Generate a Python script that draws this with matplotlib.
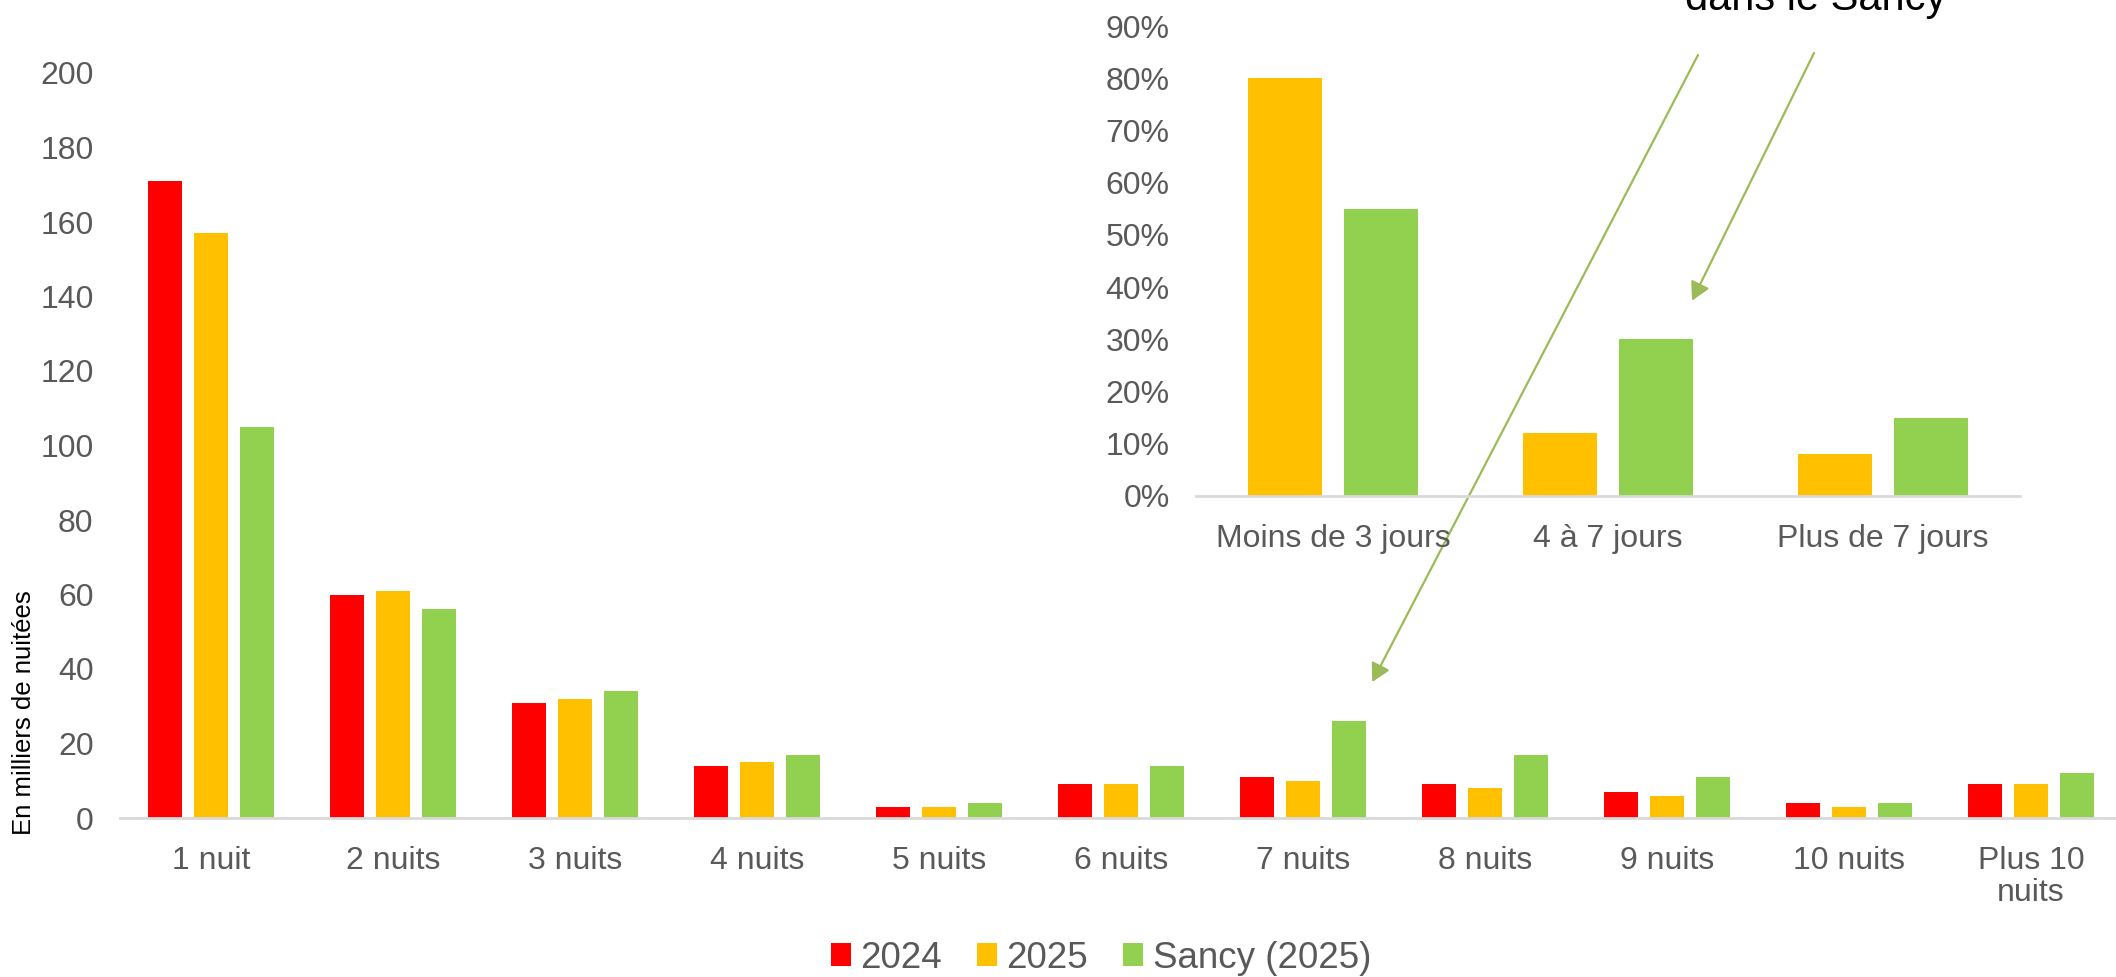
import matplotlib
matplotlib.use("Agg")
import matplotlib.pyplot as plt
import numpy as np

plt.rcParams['font.family'] = ['Liberation Sans', 'DejaVu Sans']

# Données principales (en milliers de nuitées)
categories = ["1 nuit", "2 nuits", "3 nuits", "4 nuits", "5 nuits", "6 nuits",
              "7 nuits", "8 nuits", "9 nuits", "10 nuits", "Plus 10\nnuits"]
val_2024 = [171, 60, 31, 14, 3, 9, 11, 9, 7, 4, 9]
val_2025 = [157, 61, 32, 15, 3, 9, 10, 8, 6, 3, 9]
val_sancy = [105, 56, 34, 17, 4, 14, 26, 17, 11, 4, 12]

# Données de l'encart (part des séjours)
duree = ["Moins de 3 jours", "4 à 7 jours", "Plus de 7 jours"]
part_2025 = [0.80, 0.12, 0.08]
part_sancy = [0.55, 0.30, 0.15]

rouge = '#FF0000'
jaune = '#FFC000'
vert = '#92D050'
gris = '#595959'
fleche = '#9BBB59'

W, H = 2116, 977
fig = plt.figure(figsize=(W / 100, H / 100), dpi=100)

# Graphique principal
ax = fig.add_axes([120 / W, 1 - 818 / H, (W - 120) / W, 745 / H])
x = np.arange(len(categories))
larg = 0.19
pas = 0.253
ax.bar(x - pas, val_2024, larg, color=rouge, label="2024")
ax.bar(x, val_2025, larg, color=jaune, label="2025")
ax.bar(x + pas, val_sancy, larg, color=vert, label="Sancy (2025)")
ax.set_xlim(-0.5, -0.5 + (W - 120) / 182)
ax.set_ylim(0, 200)
ax.set_yticks(np.arange(0, 201, 20))
ax.set_xticks(x)
ax.set_xticklabels(categories, linespacing=1.1)
ax.tick_params(axis='both', length=0, labelsize=23, labelcolor=gris)
ax.tick_params(axis='y', pad=19)
ax.tick_params(axis='x', pad=20)
for s in ['top', 'right', 'left']:
    ax.spines[s].set_visible(False)
ax.spines['bottom'].set_color('#D9D9D9')
ax.spines['bottom'].set_linewidth(2)
ax.set_facecolor('none')

fig.text(24 / W, 1 - 713 / H, "En milliers de nuitées", rotation=90,
         ha='center', va='center', fontsize=18.5, color='black')

# Encart
axi = fig.add_axes([1196 / W, 1 - 496 / H, 824 / W, 470 / H])
xi = np.arange(len(duree))
axi.bar(xi - 0.175, part_2025, 0.27, color=jaune)
axi.bar(xi + 0.175, part_sancy, 0.27, color=vert)
axi.set_xlim(-0.5, 2.5)
axi.set_ylim(0, 0.9)
axi.set_yticks(np.arange(0, 0.91, 0.1))
axi.set_yticklabels([f"{int(round(v * 100))}%" for v in np.arange(0, 0.91, 0.1)])
axi.set_xticks(xi)
axi.set_xticklabels(duree)
axi.tick_params(axis='both', length=0, labelsize=23, labelcolor=gris)
axi.tick_params(axis='y', pad=19)
axi.tick_params(axis='x', pad=20)
for s in ['top', 'right', 'left']:
    axi.spines[s].set_visible(False)
axi.spines['bottom'].set_color('#D9D9D9')
axi.spines['bottom'].set_linewidth(2)
axi.set_facecolor('none')

# Titre (coupé en haut, comme dans l'original)
fig.text(1816 / W, 1 - 10 / H, "dans le Sancy", ha='center', va='baseline',
         fontsize=30, color='black')

# Flèches
style = dict(arrowstyle='-|>,head_length=0.55,head_width=0.3', color=fleche,
             lw=1.6, mutation_scale=20, shrinkA=0, shrinkB=0)
ax.annotate('', xy=(6.38, 36.5), xycoords='data',
            xytext=(1698 / W, 1 - 55 / H), textcoords='figure fraction',
            arrowprops=style, annotation_clip=False, zorder=10)
axi.annotate('', xy=(1.306, 0.374), xycoords='data',
             xytext=(1814 / W, 1 - 53 / H), textcoords='figure fraction',
             arrowprops=style, annotation_clip=False, zorder=10)

# Légende
fig.legend(loc='center', bbox_to_anchor=(1101 / W, 1 - 958 / H), ncol=3,
           frameon=False, fontsize=26.5, labelcolor=gris,
           handlelength=0.55, handleheight=0.55, handletextpad=0.25,
           columnspacing=0.95, borderaxespad=0)

fig.savefig("out.png", dpi=100)
